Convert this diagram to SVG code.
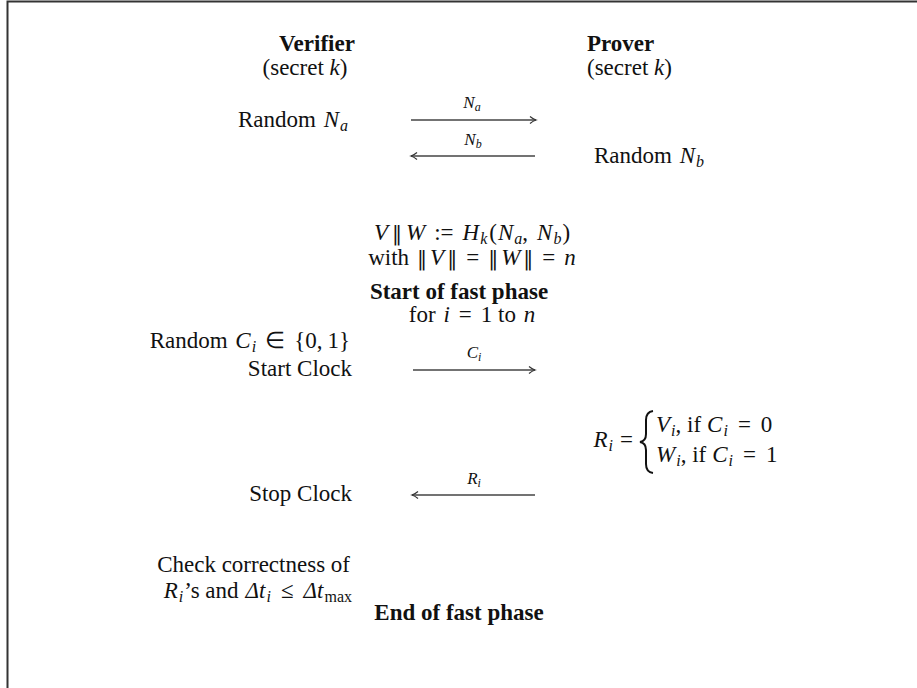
<svg xmlns="http://www.w3.org/2000/svg" width="917" height="688" viewBox="0 0 917 688">
<style>
text{font-family:"Liberation Serif","Times New Roman",serif;font-size:23px;fill:#111}
.b{font-weight:bold}
.i{font-style:italic}
.s{font-size:16px}
.bar{font-family:"DejaVu Serif",serif;font-size:20px}
.lab{font-size:17px;font-style:italic}
.ls{font-size:12px}
.conn line{stroke:#444;stroke-width:1.4}
.frame{stroke:#333;stroke-width:2;fill:none}
</style>
<defs>
<marker id="ah" markerWidth="10" markerHeight="10" refX="8" refY="5" orient="auto" markerUnits="userSpaceOnUse">
<path d="M2,1.5 Q5,4 8,5 Q5,6 2,8.5" fill="none" stroke="#333" stroke-width="1.2"/>
</marker>
</defs>
<rect width="917" height="688" fill="#fff"/>
<path class="frame" d="M7.5,688 V1.5 H917"/>
<g id="verifier">
<text class="b" x="317" y="51" text-anchor="middle">Verifier</text>
<text x="305" y="75" text-anchor="middle">(secret <tspan class="i">k</tspan>)</text>
</g>
<g id="prover">
<text class="b" x="587" y="51">Prover</text>
<text x="587" y="75">(secret <tspan class="i">k</tspan>)</text>
</g>
<g id="random-na">
<text x="348" y="127" text-anchor="end">Random <tspan class="i" dx="2">N</tspan><tspan class="i s" dy="4" dx="1">a</tspan></text>
</g>
<g id="random-nb">
<text x="594" y="163">Random <tspan class="i" dx="2">N</tspan><tspan class="i s" dy="4" dx="1">b</tspan></text>
</g>
<g id="hash">
<text x="472" y="240" text-anchor="middle"><tspan class="i">V</tspan><tspan class="bar" dx="4">‖</tspan><tspan class="i" dx="4">W</tspan><tspan dx="9">:=</tspan><tspan class="i" dx="9">H</tspan><tspan class="i s" dy="4" dx="1">k</tspan><tspan dy="-4" dx="2">(</tspan><tspan class="i" dx="1">N</tspan><tspan class="i s" dy="4" dx="1">a</tspan><tspan dy="-4">,</tspan><tspan class="i" dx="9">N</tspan><tspan class="i s" dy="4" dx="1">b</tspan><tspan dy="-4" dx="1">)</tspan></text>
<text x="472" y="265" text-anchor="middle">with<tspan class="bar" dx="8">‖</tspan><tspan class="i" dx="3">V</tspan><tspan class="bar" dx="3">‖</tspan><tspan dx="9">=</tspan><tspan class="bar" dx="9">‖</tspan><tspan class="i" dx="3">W</tspan><tspan class="bar" dx="3">‖</tspan><tspan dx="9">=</tspan><tspan class="i" dx="9">n</tspan></text>
</g>
<g id="start-fast">
<text class="b" x="459" y="299" text-anchor="middle">Start of fast phase</text>
<text x="472" y="322" text-anchor="middle">for <tspan class="i" dx="2">i</tspan><tspan dx="9">=</tspan><tspan dx="9">1</tspan> to <tspan class="i" dx="2">n</tspan></text>
</g>
<g id="random-ci">
<text x="350" y="348" text-anchor="end">Random <tspan class="i" dx="2">C</tspan><tspan class="i s" dy="4" dx="1">i</tspan><tspan dy="-4" dx="9">∈</tspan><tspan dx="9">{0,</tspan><tspan dx="5">1}</tspan></text>
</g>
<g id="start-clock">
<text x="352" y="376" text-anchor="end">Start Clock</text>
</g>
<g id="response">
<text x="633" y="447" text-anchor="end"><tspan class="i">R</tspan><tspan class="i s" dy="4" dx="1">i</tspan><tspan dy="-4" dx="7">=</tspan></text>
<path d="M653,411 Q646,412 646,420 V434 Q646,441 640,442 Q646,443 646,450 V464 Q646,472 653,473" fill="none" stroke="#111" stroke-width="2"/>
<text x="656" y="432"><tspan class="i">V</tspan><tspan class="i s" dy="4" dx="1">i</tspan><tspan dy="-4">, if</tspan><tspan class="i" dx="6">C</tspan><tspan class="i s" dy="4" dx="1">i</tspan><tspan dy="-4" dx="10">=</tspan><tspan dx="10">0</tspan></text>
<text x="656" y="462"><tspan class="i">W</tspan><tspan class="i s" dy="4" dx="1">i</tspan><tspan dy="-4">, if</tspan><tspan class="i" dx="6">C</tspan><tspan class="i s" dy="4" dx="1">i</tspan><tspan dy="-4" dx="10">=</tspan><tspan dx="10">1</tspan></text>
</g>
<g id="stop-clock">
<text x="352" y="501" text-anchor="end">Stop Clock</text>
</g>
<g id="check">
<text x="350" y="572" text-anchor="end">Check correctness of</text>
<text x="352" y="598" text-anchor="end"><tspan class="i">R</tspan><tspan class="i s" dy="4" dx="1">i</tspan><tspan dy="-4" dx="1">’s and</tspan><tspan class="i" dx="7">Δt</tspan><tspan class="i s" dy="4" dx="1">i</tspan><tspan dy="-4" dx="10">≤</tspan><tspan class="i" dx="10">Δt</tspan><tspan class="s" dy="4" dx="1">max</tspan></text>
</g>
<g id="end-fast">
<text class="b" x="459" y="620" text-anchor="middle">End of fast phase</text>
</g>
<g id="connectors" class="conn">
<line x1="411" y1="120" x2="536" y2="120" marker-end="url(#ah)"/>
<text class="lab" x="472" y="108" text-anchor="middle">N<tspan class="ls" dy="3">a</tspan></text>
<line x1="535" y1="156" x2="411" y2="156" marker-end="url(#ah)"/>
<text class="lab" x="473" y="145" text-anchor="middle">N<tspan class="ls" dy="3">b</tspan></text>
<line x1="413" y1="370" x2="535" y2="370" marker-end="url(#ah)"/>
<text class="lab" x="474" y="358" text-anchor="middle">C<tspan class="ls" dy="3">i</tspan></text>
<line x1="535" y1="495" x2="412" y2="495" marker-end="url(#ah)"/>
<text class="lab" x="474" y="484" text-anchor="middle">R<tspan class="ls" dy="3">i</tspan></text>
</g>
</svg>
